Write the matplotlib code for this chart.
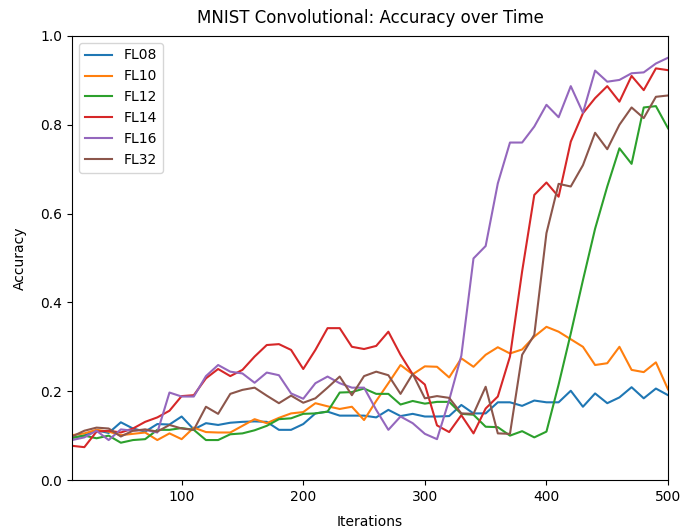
import matplotlib
matplotlib.use("Agg")
import matplotlib.pyplot as plt

iterations = list(range(10, 501, 10))

fl08 = [0.095, 0.100, 0.112, 0.106, 0.130, 0.116, 0.109, 0.126, 0.125, 0.143,
        0.114, 0.128, 0.124, 0.129, 0.131, 0.132, 0.131, 0.113, 0.113, 0.126,
        0.150, 0.154, 0.145, 0.145, 0.145, 0.141, 0.158, 0.144, 0.149, 0.143,
        0.143, 0.144, 0.169, 0.150, 0.150, 0.175, 0.175, 0.167, 0.179, 0.175,
        0.175, 0.201, 0.165, 0.195, 0.173, 0.186, 0.209, 0.184, 0.206, 0.191]

fl10 = [0.101, 0.105, 0.113, 0.109, 0.101, 0.104, 0.107, 0.090, 0.105, 0.092,
        0.118, 0.108, 0.107, 0.107, 0.122, 0.137, 0.128, 0.140, 0.150, 0.153,
        0.173, 0.166, 0.160, 0.165, 0.135, 0.178, 0.218, 0.259, 0.238, 0.256,
        0.255, 0.231, 0.274, 0.255, 0.282, 0.299, 0.285, 0.294, 0.323, 0.345,
        0.334, 0.317, 0.300, 0.259, 0.263, 0.300, 0.248, 0.243, 0.265, 0.204]

fl12 = [0.095, 0.100, 0.094, 0.100, 0.084, 0.090, 0.092, 0.113, 0.113, 0.117,
        0.113, 0.090, 0.090, 0.103, 0.105, 0.112, 0.122, 0.137, 0.139, 0.149,
        0.150, 0.154, 0.197, 0.198, 0.206, 0.194, 0.194, 0.170, 0.178, 0.172,
        0.176, 0.176, 0.149, 0.147, 0.120, 0.119, 0.100, 0.110, 0.096, 0.109,
        0.215, 0.330, 0.450, 0.566, 0.661, 0.747, 0.712, 0.839, 0.842, 0.792]

fl14 = [0.077, 0.074, 0.109, 0.111, 0.107, 0.116, 0.131, 0.141, 0.156, 0.189,
        0.191, 0.229, 0.250, 0.234, 0.248, 0.278, 0.304, 0.306, 0.293, 0.250,
        0.293, 0.342, 0.342, 0.300, 0.295, 0.302, 0.334, 0.282, 0.238, 0.215,
        0.123, 0.108, 0.146, 0.105, 0.161, 0.188, 0.278, 0.470, 0.642, 0.670,
        0.638, 0.762, 0.826, 0.860, 0.887, 0.852, 0.910, 0.878, 0.927, 0.923]

fl16 = [0.090, 0.096, 0.111, 0.090, 0.114, 0.111, 0.113, 0.107, 0.197, 0.188,
        0.188, 0.234, 0.259, 0.244, 0.240, 0.219, 0.242, 0.236, 0.195, 0.183,
        0.218, 0.233, 0.218, 0.208, 0.208, 0.158, 0.113, 0.143, 0.128, 0.104,
        0.092, 0.180, 0.280, 0.499, 0.527, 0.668, 0.760, 0.760, 0.796, 0.845,
        0.817, 0.887, 0.827, 0.922, 0.897, 0.901, 0.916, 0.918, 0.938, 0.951]

fl32 = [0.098, 0.111, 0.118, 0.116, 0.098, 0.111, 0.114, 0.109, 0.124, 0.116,
        0.113, 0.165, 0.149, 0.194, 0.203, 0.208, 0.190, 0.173, 0.190, 0.174,
        0.184, 0.208, 0.233, 0.191, 0.234, 0.244, 0.236, 0.194, 0.239, 0.184,
        0.189, 0.185, 0.150, 0.149, 0.210, 0.105, 0.104, 0.282, 0.327, 0.556,
        0.667, 0.661, 0.709, 0.782, 0.745, 0.800, 0.839, 0.815, 0.863, 0.866]

series = [("FL08", fl08), ("FL10", fl10), ("FL12", fl12),
          ("FL14", fl14), ("FL16", fl16), ("FL32", fl32)]

fig = plt.figure(figsize=(6.81, 5.29), dpi=100)
ax = fig.add_axes([0.106, 0.0926, 0.875, 0.8394])

for name, vals in series:
    ax.plot(iterations, vals, label=name)

ax.set_xlim(10, 500)
ax.set_ylim(0, 1.0)
ax.set_title("MNIST Convolutional: Accuracy over Time", pad=9)
ax.set_xlabel("Iterations", labelpad=8)
ax.set_ylabel("Accuracy", labelpad=10)
ax.legend(loc="upper left")

fig.savefig("out.png", dpi=100)
